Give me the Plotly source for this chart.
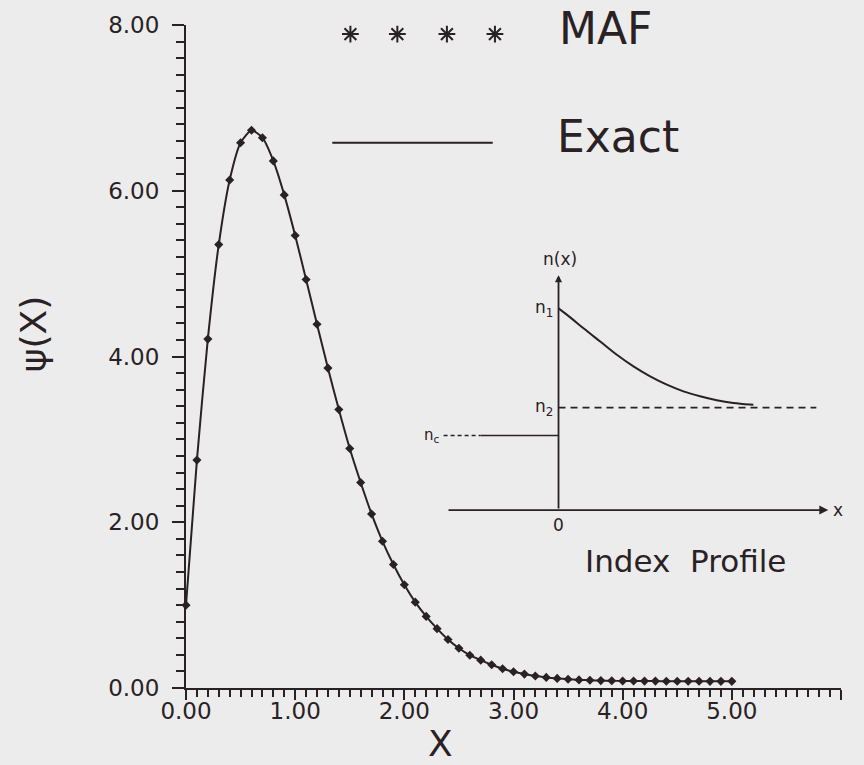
import plotly.graph_objects as go

# ---------------- data ----------------
x_vals = [round(0.1 * i, 1) for i in range(51)]
psi_vals = [1.00, 2.75, 4.21, 5.35, 6.13, 6.58, 6.73, 6.64, 6.36, 5.95,
            5.46, 4.93, 4.39, 3.86, 3.36, 2.89, 2.48, 2.10, 1.77, 1.49,
            1.245, 1.036, 0.864, 0.716, 0.585, 0.48, 0.396, 0.336, 0.28, 0.232,
            0.196, 0.168, 0.144, 0.128, 0.116, 0.105, 0.098, 0.093, 0.089, 0.087,
            0.085, 0.084, 0.083, 0.083, 0.082, 0.082, 0.081, 0.081, 0.080, 0.080,
            0.080]

x_ticks = [0, 1, 2, 3, 4, 5, 6]
x_ticklabels = ["0.00", "1.00", "2.00", "3.00", "4.00", "5.00", "6.00"]
y_ticks = [0, 2, 4, 6, 8]
y_ticklabels = ["0.00", "2.00", "4.00", "6.00", "8.00"]

# legend replica positions (data units of main axes)
legend_star_x = [1.506, 1.936, 2.39, 2.83]
legend_star_y = 7.89
legend_line_x = [1.34, 2.81]
legend_line_y = 6.58

# inset (index profile sketch) in its own units
N1, N2, NC = 2.03, 1.03, 0.75
profile_x = [0.0, 0.117, 0.25, 0.417, 0.584, 0.75, 0.917, 1.084, 1.25, 1.417,
             1.584, 1.75, 1.917, 1.95]
profile_y = [2.026, 1.936, 1.826, 1.693, 1.56, 1.443, 1.343, 1.26, 1.193, 1.143,
             1.103, 1.076, 1.06, 1.058]
n2_line_x = [0.0, 2.58]
nc_dash_x = [-1.15, -0.78]
nc_solid_x = [-0.78, 0.0]
inset_xaxis_x = [-1.116, 2.70]
inset_yaxis_top = 2.36

INK = "#2a2124"
BG = "#ececec"
FONT = "DejaVu Sans"

fig = go.Figure()

# Exact line
fig.add_trace(go.Scatter(x=x_vals, y=psi_vals, mode="lines",
                         line=dict(color=INK, width=2, shape="spline", smoothing=0.6),
                         cliponaxis=False, showlegend=False, hoverinfo="skip"))
# MAF markers
fig.add_trace(go.Scatter(x=x_vals, y=psi_vals, mode="markers",
                         marker=dict(symbol="diamond", size=7, color=INK),
                         cliponaxis=False, showlegend=False))

# legend replica
fig.add_trace(go.Scatter(x=legend_star_x, y=[legend_star_y] * len(legend_star_x),
                         mode="markers", cliponaxis=False, showlegend=False,
                         marker=dict(symbol="asterisk-open", size=14, color=INK,
                                     line=dict(color=INK, width=2))))
fig.add_trace(go.Scatter(x=legend_line_x, y=[legend_line_y] * 2, mode="lines",
                         cliponaxis=False, showlegend=False,
                         line=dict(color=INK, width=2)))
fig.add_annotation(x=3.40, y=7.96, xref="x", yref="y", text="MAF", showarrow=False,
                   xanchor="left", yanchor="middle",
                   font=dict(family=FONT, size=44, color=INK))
fig.add_annotation(x=3.38, y=6.65, xref="x", yref="y", text="Exact", showarrow=False,
                   xanchor="left", yanchor="middle",
                   font=dict(family=FONT, size=44, color=INK))

# ---------------- inset ----------------
fig.add_trace(go.Scatter(x=profile_x, y=profile_y, mode="lines", xaxis="x2", yaxis="y2",
                         line=dict(color=INK, width=2, shape="spline"),
                         cliponaxis=False, showlegend=False))
fig.add_trace(go.Scatter(x=n2_line_x, y=[N2, N2], mode="lines", xaxis="x2", yaxis="y2",
                         line=dict(color=INK, width=1.8, dash="7px,5px"),
                         cliponaxis=False, showlegend=False))
fig.add_trace(go.Scatter(x=nc_dash_x, y=[NC, NC], mode="lines", xaxis="x2", yaxis="y2",
                         line=dict(color=INK, width=1.5, dash="4px,3px"),
                         cliponaxis=False, showlegend=False))
fig.add_trace(go.Scatter(x=nc_solid_x, y=[NC, NC], mode="lines", xaxis="x2", yaxis="y2",
                         line=dict(color=INK, width=1.5),
                         cliponaxis=False, showlegend=False))
# inset axes as arrows
fig.add_annotation(x=inset_xaxis_x[1], y=0, ax=inset_xaxis_x[0], ay=0,
                   xref="x2", yref="y2", axref="x2", ayref="y2", text="",
                   showarrow=True, arrowhead=2, arrowsize=1, arrowwidth=1.8, arrowcolor=INK)
fig.add_annotation(x=0, y=inset_yaxis_top, ax=0, ay=0,
                   xref="x2", yref="y2", axref="x2", ayref="y2", text="",
                   showarrow=True, arrowhead=2, arrowsize=0.8, arrowwidth=1.8, arrowcolor=INK)

W, H = 864, 765
L, R, T, B = 185.5, 23, 22, 77
pw, ph = W - L - R, H - T - B


def px_x(p):
    return (p - L) / pw


def px_y(p):
    return (H - B - p) / ph


small = dict(family=FONT, size=17, color=INK)
fig.add_annotation(x=0.01, y=2.52, xref="x2", yref="y2", text="n(x)", showarrow=False,
                   xanchor="center", yanchor="middle", font=small)
fig.add_annotation(x=-0.04, y=N1, xref="x2", yref="y2", text="n<sub>1</sub>", showarrow=False,
                   xanchor="right", yanchor="middle", font=small)
fig.add_annotation(x=-0.04, y=N2, xref="x2", yref="y2", text="n<sub>2</sub>", showarrow=False,
                   xanchor="right", yanchor="middle", font=small)
fig.add_annotation(x=-1.17, y=NC, xref="x2", yref="y2", text="n<sub>c</sub>", showarrow=False,
                   xanchor="right", yanchor="middle", font=dict(family=FONT, size=15, color=INK))
fig.add_annotation(x=2.80, y=0, xref="x2", yref="y2", text="x", showarrow=False,
                   xanchor="center", yanchor="middle", font=small)
fig.add_annotation(x=px_x(558.5), y=px_y(524), xref="paper", yref="paper", text="0",
                   showarrow=False, xanchor="center", yanchor="middle", font=small)
fig.add_annotation(x=px_x(685), y=px_y(560), xref="paper", yref="paper",
                   text="Index  Profile", showarrow=False, xanchor="center", yanchor="middle",
                   font=dict(family=FONT, size=31, color=INK))

# axis titles
fig.add_annotation(x=px_x(33), y=px_y(332), xref="paper", yref="paper", text="ψ(X)",
                   textangle=-90, showarrow=False, xanchor="center", yanchor="middle",
                   font=dict(family=FONT, size=36, color=INK))
fig.add_annotation(x=px_x(440), y=px_y(744), xref="paper", yref="paper", text="X",
                   showarrow=False, xanchor="center", yanchor="middle",
                   font=dict(family=FONT, size=36, color=INK))

fig.update_layout(
    width=W, height=H,
    margin=dict(l=L, r=R, t=T, b=B),
    paper_bgcolor=BG, plot_bgcolor=BG,
    showlegend=False,
    xaxis=dict(range=[0, 6], tickvals=x_ticks, ticktext=x_ticklabels,
               showgrid=False, zeroline=False, showline=True, linecolor=INK, linewidth=2,
               ticks="outside", ticklen=10, tickwidth=2, tickcolor=INK,
               ticklabelstandoff=-9,
               minor=dict(dtick=0.1, tick0=0, ticks="outside", ticklen=7, tickwidth=1.5,
                          tickcolor=INK, showgrid=False),
               tickfont=dict(family=FONT, size=23, color=INK), fixedrange=True),
    yaxis=dict(range=[0, 8], tickvals=y_ticks, ticktext=y_ticklabels,
               showgrid=False, zeroline=False, showline=True, linecolor=INK, linewidth=2,
               ticks="outside", ticklen=12, tickwidth=2, tickcolor=INK,
               ticklabelstandoff=8,
               minor=dict(dtick=0.2, tick0=0, ticks="outside", ticklen=8, tickwidth=1.5,
                          tickcolor=INK, showgrid=False),
               tickfont=dict(family=FONT, size=23, color=INK), fixedrange=True),
    xaxis2=dict(domain=[px_x(440), px_x(840)], range=[-1.183, 2.817], anchor="y2",
                visible=False, fixedrange=True),
    yaxis2=dict(domain=[px_y(515), px_y(250)], range=[-0.057, 2.593], anchor="x2",
                visible=False, fixedrange=True),
)

fig.write_html("out.html")
